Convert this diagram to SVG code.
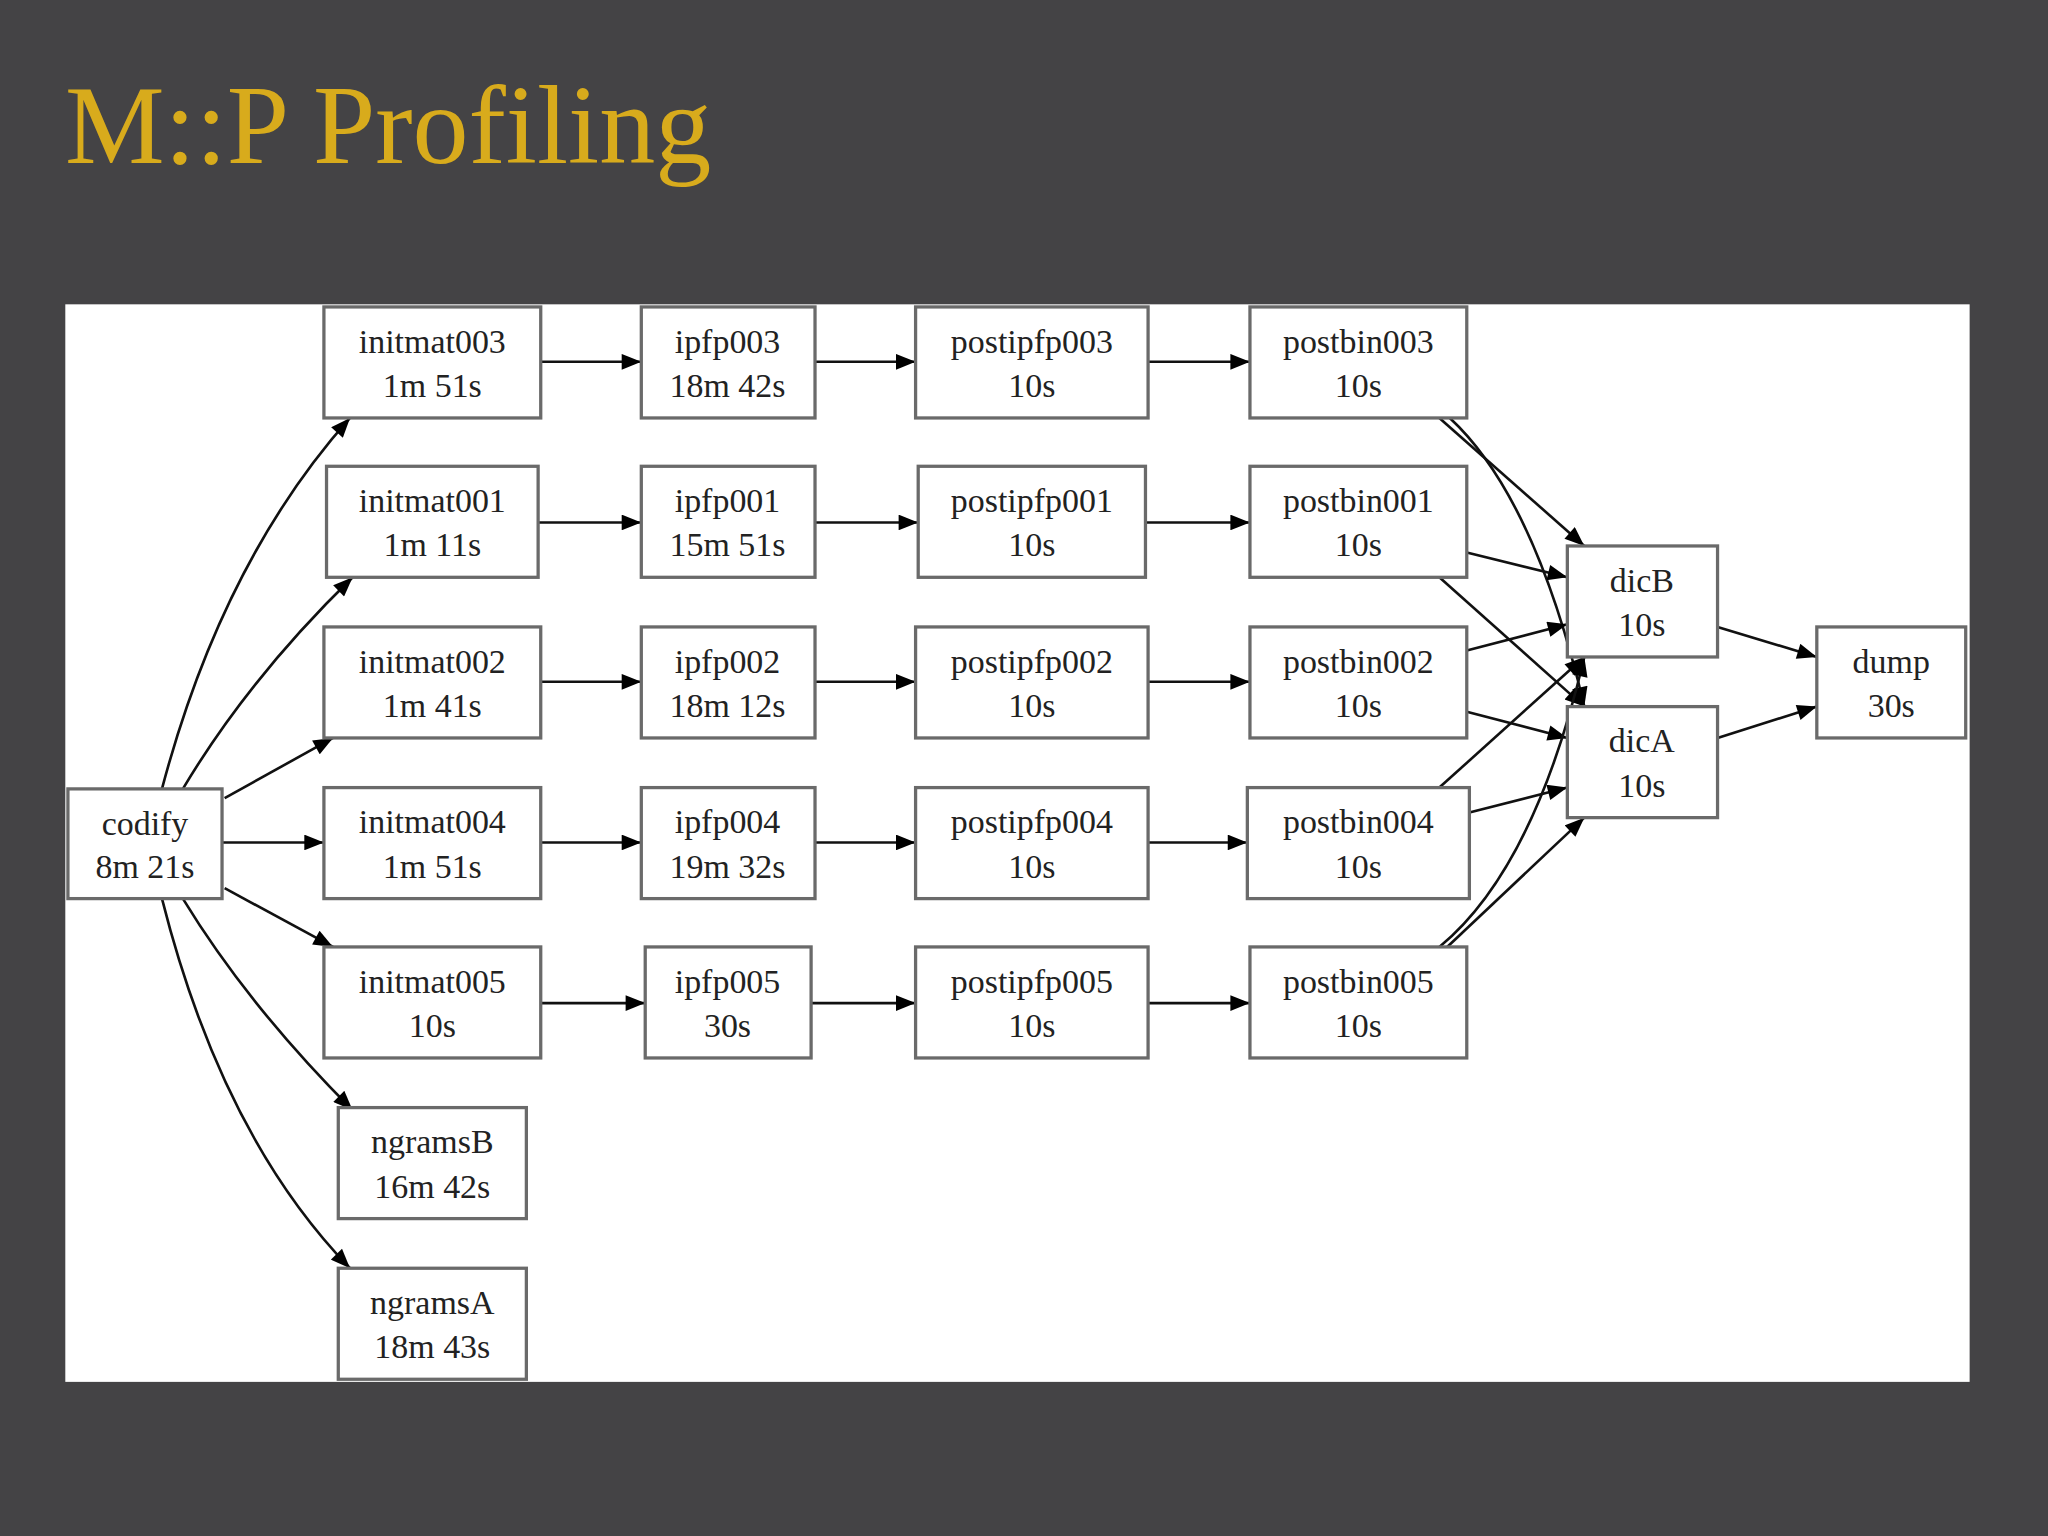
<svg xmlns="http://www.w3.org/2000/svg" width="2048" height="1536" viewBox="0 0 2048 1536">
<style>
.n rect{fill:#fff;stroke:#6a6a6a;stroke-width:2.5}
.n text{font-family:"Liberation Serif",serif;font-size:26px;fill:#222;text-anchor:middle}
.e path{fill:none;stroke:#111;stroke-width:2;marker-end:url(#a)}
</style>
<defs><marker id="a" viewBox="0 0 10 8" refX="10" refY="4" markerWidth="8" markerHeight="6" orient="auto"><path d="M0,0L10,4L0,8z" fill="#000"/></marker></defs>
<rect width="2048" height="1536" fill="#444345"/>
<text x="65" y="163" font-family="Liberation Serif,serif" font-size="112" fill="#d8ab1c">M::P Profiling</text>
<g transform="scale(1.30612)">
<rect x="50" y="233" width="1458" height="825" fill="#fff"/>
<g class="e">
<path d="M124,604 Q170,430 268,320"/>
<path d="M140,604 Q190,520 270,442"/>
<path d="M172,611 L255,565"/>
<path d="M170,645 L248,645"/>
<path d="M172,680 L255,725"/>
<path d="M140,688 Q190,770 270,850"/>
<path d="M124,688 Q170,870 268,971"/>
<path d="M414,277 L491,277"/><path d="M412,400 L491,400"/><path d="M414,522 L491,522"/><path d="M414,645 L491,645"/><path d="M414,768 L494,768"/>
<path d="M624,277 L701,277"/><path d="M624,400 L703,400"/><path d="M624,522 L701,522"/><path d="M624,645 L701,645"/><path d="M621,768 L701,768"/>
<path d="M879,277 L957,277"/><path d="M877,400 L957,400"/><path d="M879,522 L957,522"/><path d="M879,645 L955,645"/><path d="M879,768 L957,768"/>
<path d="M1102,320 L1213,418"/>
<path d="M1110,320 Q1175,380 1213,541"/>
<path d="M1123,423 L1200,442"/>
<path d="M1102,442 L1213,541"/>
<path d="M1123,498 L1200,478"/>
<path d="M1123,545 L1200,565"/>
<path d="M1102,603 L1213,503"/>
<path d="M1125,622 L1200,603"/>
<path d="M1102,725 Q1175,665 1213,503"/>
<path d="M1108,725 L1213,626"/>
<path d="M1315,480 L1391,503"/>
<path d="M1315,565 L1391,541"/>
</g>
<g id="codify" class="n"><rect x="52" y="604" width="118" height="84"/><text x="111" y="639">codify</text><text x="111" y="672">8m 21s</text></g>
<g id="initmat003" class="n"><rect x="248" y="235" width="166" height="85"/><text x="331" y="270">initmat003</text><text x="331" y="304">1m 51s</text></g>
<g id="initmat001" class="n"><rect x="250" y="357" width="162" height="85"/><text x="331" y="392">initmat001</text><text x="331" y="426">1m 11s</text></g>
<g id="initmat002" class="n"><rect x="248" y="480" width="166" height="85"/><text x="331" y="515">initmat002</text><text x="331" y="549">1m 41s</text></g>
<g id="initmat004" class="n"><rect x="248" y="603" width="166" height="85"/><text x="331" y="638">initmat004</text><text x="331" y="672">1m 51s</text></g>
<g id="initmat005" class="n"><rect x="248" y="725" width="166" height="85"/><text x="331" y="760">initmat005</text><text x="331" y="794">10s</text></g>
<g id="ngramsB" class="n"><rect x="259" y="848" width="144" height="85"/><text x="331" y="883">ngramsB</text><text x="331" y="917">16m 42s</text></g>
<g id="ngramsA" class="n"><rect x="259" y="971" width="144" height="85"/><text x="331" y="1006">ngramsA</text><text x="331" y="1040">18m 43s</text></g>
<g id="ipfp003" class="n"><rect x="491" y="235" width="133" height="85"/><text x="557" y="270">ipfp003</text><text x="557" y="304">18m 42s</text></g>
<g id="ipfp001" class="n"><rect x="491" y="357" width="133" height="85"/><text x="557" y="392">ipfp001</text><text x="557" y="426">15m 51s</text></g>
<g id="ipfp002" class="n"><rect x="491" y="480" width="133" height="85"/><text x="557" y="515">ipfp002</text><text x="557" y="549">18m 12s</text></g>
<g id="ipfp004" class="n"><rect x="491" y="603" width="133" height="85"/><text x="557" y="638">ipfp004</text><text x="557" y="672">19m 32s</text></g>
<g id="ipfp005" class="n"><rect x="494" y="725" width="127" height="85"/><text x="557" y="760">ipfp005</text><text x="557" y="794">30s</text></g>
<g id="postipfp003" class="n"><rect x="701" y="235" width="178" height="85"/><text x="790" y="270">postipfp003</text><text x="790" y="304">10s</text></g>
<g id="postipfp001" class="n"><rect x="703" y="357" width="174" height="85"/><text x="790" y="392">postipfp001</text><text x="790" y="426">10s</text></g>
<g id="postipfp002" class="n"><rect x="701" y="480" width="178" height="85"/><text x="790" y="515">postipfp002</text><text x="790" y="549">10s</text></g>
<g id="postipfp004" class="n"><rect x="701" y="603" width="178" height="85"/><text x="790" y="638">postipfp004</text><text x="790" y="672">10s</text></g>
<g id="postipfp005" class="n"><rect x="701" y="725" width="178" height="85"/><text x="790" y="760">postipfp005</text><text x="790" y="794">10s</text></g>
<g id="postbin003" class="n"><rect x="957" y="235" width="166" height="85"/><text x="1040" y="270">postbin003</text><text x="1040" y="304">10s</text></g>
<g id="postbin001" class="n"><rect x="957" y="357" width="166" height="85"/><text x="1040" y="392">postbin001</text><text x="1040" y="426">10s</text></g>
<g id="postbin002" class="n"><rect x="957" y="480" width="166" height="85"/><text x="1040" y="515">postbin002</text><text x="1040" y="549">10s</text></g>
<g id="postbin004" class="n"><rect x="955" y="603" width="170" height="85"/><text x="1040" y="638">postbin004</text><text x="1040" y="672">10s</text></g>
<g id="postbin005" class="n"><rect x="957" y="725" width="166" height="85"/><text x="1040" y="760">postbin005</text><text x="1040" y="794">10s</text></g>
<g id="dicB" class="n"><rect x="1200" y="418" width="115" height="85"/><text x="1257" y="453">dicB</text><text x="1257" y="487">10s</text></g>
<g id="dicA" class="n"><rect x="1200" y="541" width="115" height="85"/><text x="1257" y="576">dicA</text><text x="1257" y="610">10s</text></g>
<g id="dump" class="n"><rect x="1391" y="480" width="114" height="85"/><text x="1448" y="515">dump</text><text x="1448" y="549">30s</text></g>
</g>
</svg>
